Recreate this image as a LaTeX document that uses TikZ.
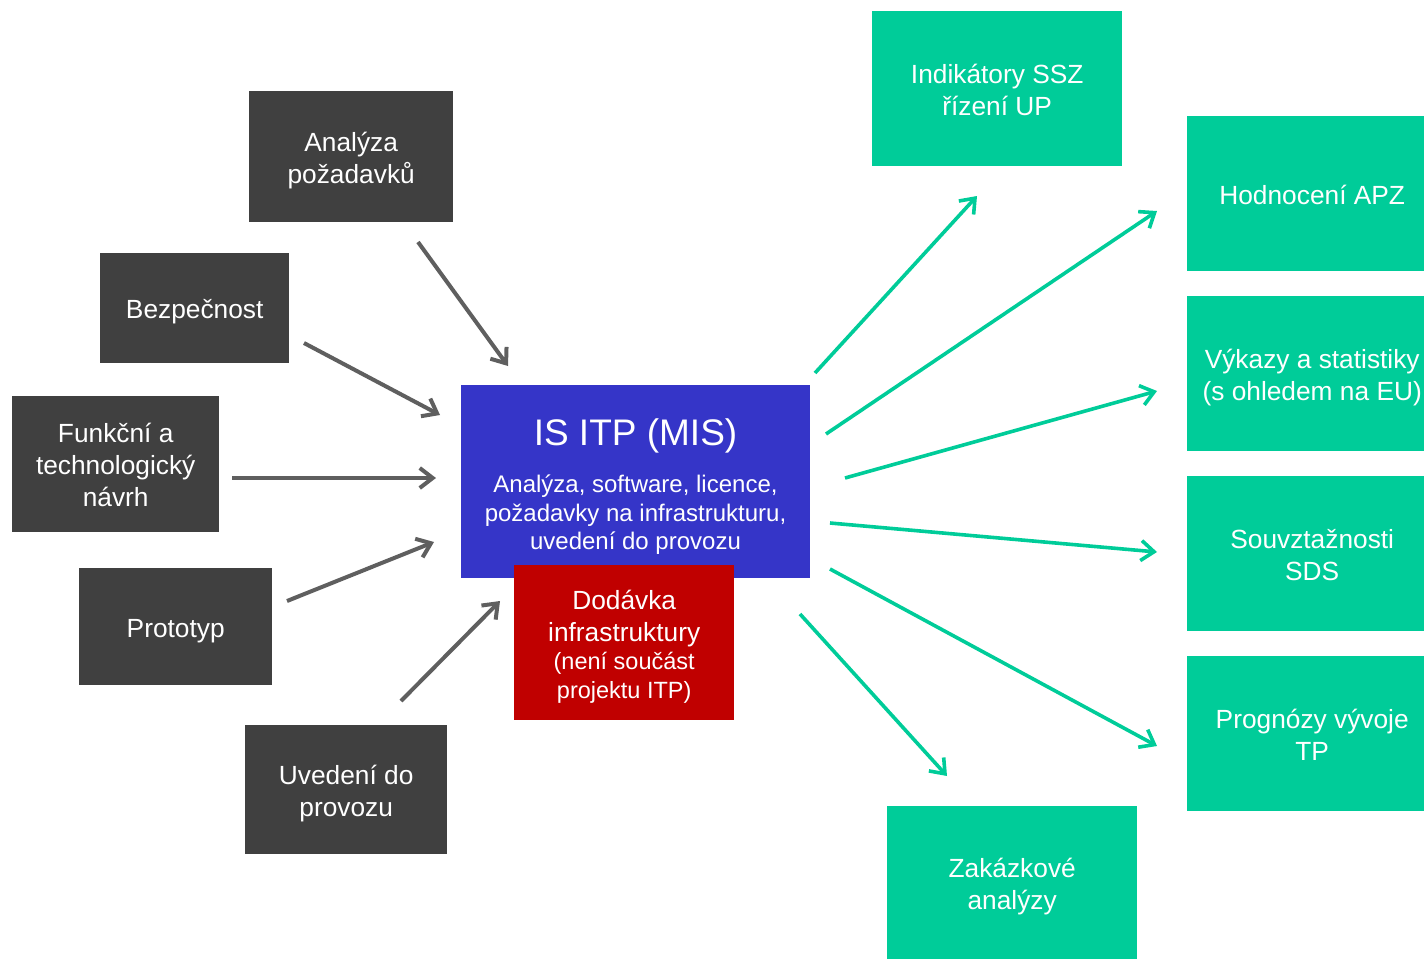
\documentclass[tikz,border=0pt]{standalone}
\usepackage{fontspec}
\setmainfont{Liberation Sans}
\usetikzlibrary{arrows.meta}
\definecolor{boxgray}{HTML}{404040}
\definecolor{arrgray}{HTML}{5F5F5F}
\definecolor{itpblue}{HTML}{3535C8}
\definecolor{dodred}{HTML}{C00000}
\definecolor{outgreen}{HTML}{00CC99}
\tikzset{
  boxbase/.style={anchor=north west, inner sep=0pt, align=center, text=white,
    font=\fontsize{26.3}{32}\selectfont},
  inbox/.style={boxbase, fill=boxgray},
  outbox/.style={boxbase, fill=outgreen},
  inarrow/.style={draw=arrgray, line width=4pt, -{Straight Barb[length=13pt, width=20pt]}},
  outarrow/.style={draw=outgreen, line width=3.6pt, -{Straight Barb[length=13pt, width=20pt]}},
}
\newcommand{\boxtext}[2][8pt]{\raisebox{0pt}[\dimexpr\height+#1\relax][\depth]{\begin{tabular}{@{}c@{}}#2\end{tabular}}}
\begin{document}
\begin{tikzpicture}[x=1pt, y=-1pt]
\useasboundingbox (0,0) rectangle (1424,959);
% input boxes
\node[inbox, minimum width=204pt, minimum height=131pt] (ana) at (249,91) {\boxtext{Analýza\\požadavků}};
\node[inbox, minimum width=189pt, minimum height=110pt] (bez) at (100,253) {\boxtext{Bezpečnost}};
\node[inbox, minimum width=207pt, minimum height=136pt] (fun) at (12,396) {\boxtext{Funkční a\\technologický\\návrh}};
\node[inbox, minimum width=193pt, minimum height=117pt] (pro) at (79,568) {\boxtext{Prototyp}};
\node[inbox, minimum width=202pt, minimum height=129pt] (uve) at (245,725) {\boxtext{Uvedení do\\provozu}};
% central
\node[boxbase, fill=itpblue, minimum width=349pt, minimum height=193pt] (itp) at (461,385) {};
\node[text=white, inner sep=0pt, font=\fontsize{37}{40}\selectfont] (itpt) at (635.5,436) {IS ITP (MIS)};
\node[text=white, inner sep=0pt, align=center, font=\fontsize{24}{28.5}\selectfont] (itps) at (635.5,515) {Analýza, software, licence,\\požadavky na infrastrukturu,\\uvedení do provozu};
\node[boxbase, fill=dodred, minimum width=220pt, minimum height=155pt, font=\fontsize{23.5}{28.5}\selectfont] (dod) at (514,565) {\boxtext[11pt]{{\fontsize{26.3}{32}\selectfont Dodávka}\\[3pt]{\fontsize{26.3}{32}\selectfont infrastruktury}\\(není součást\\projektu ITP)}};
% output boxes
\node[outbox, minimum width=250pt, minimum height=155pt] (ind) at (872,11) {\boxtext{Indikátory SSZ\\řízení UP}};
\node[outbox, minimum width=250pt, minimum height=155pt] (hod) at (1187,116) {\boxtext{Hodnocení APZ}};
\node[outbox, minimum width=250pt, minimum height=155pt] (vyk) at (1187,296) {\boxtext{Výkazy a statistiky\\(s ohledem na EU)}};
\node[outbox, minimum width=250pt, minimum height=155pt] (sou) at (1187,476) {\boxtext{Souvztažnosti\\SDS}};
\node[outbox, minimum width=250pt, minimum height=155pt] (prg) at (1187,656) {\boxtext{Prognózy vývoje\\TP}};
\node[outbox, minimum width=250pt, minimum height=153pt] (zak) at (887,806) {\boxtext{Zakázkové\\analýzy}};
% arrow end points
\coordinate (a1s) at (418,242); \coordinate (a1e) at (508,366);
\coordinate (a2s) at (304,343); \coordinate (a2e) at (440,415);
\coordinate (a3s) at (232,478); \coordinate (a3e) at (436,478);
\coordinate (a4s) at (287,601); \coordinate (a4e) at (434,542);
\coordinate (a5s) at (401,701); \coordinate (a5e) at (500,601);
\coordinate (g1s) at (815,373); \coordinate (g1e) at (977,196);
\coordinate (g2s) at (826,434); \coordinate (g2e) at (1157,211);
\coordinate (g3s) at (845,478); \coordinate (g3e) at (1157,391);
\coordinate (g4s) at (830,523); \coordinate (g4e) at (1157,552);
\coordinate (g5s) at (830,569); \coordinate (g5e) at (1157,746);
\coordinate (g6s) at (800,614); \coordinate (g6e) at (947,776);
\draw[inarrow] (a1s) -- (a1e);
\draw[inarrow] (a2s) -- (a2e);
\draw[inarrow] (a3s) -- (a3e);
\draw[inarrow] (a4s) -- (a4e);
\draw[inarrow] (a5s) -- (a5e);
\draw[outarrow] (g1s) -- (g1e);
\draw[outarrow] (g2s) -- (g2e);
\draw[outarrow] (g3s) -- (g3e);
\draw[outarrow] (g4s) -- (g4e);
\draw[outarrow] (g5s) -- (g5e);
\draw[outarrow] (g6s) -- (g6e);
\end{tikzpicture}
\end{document}
